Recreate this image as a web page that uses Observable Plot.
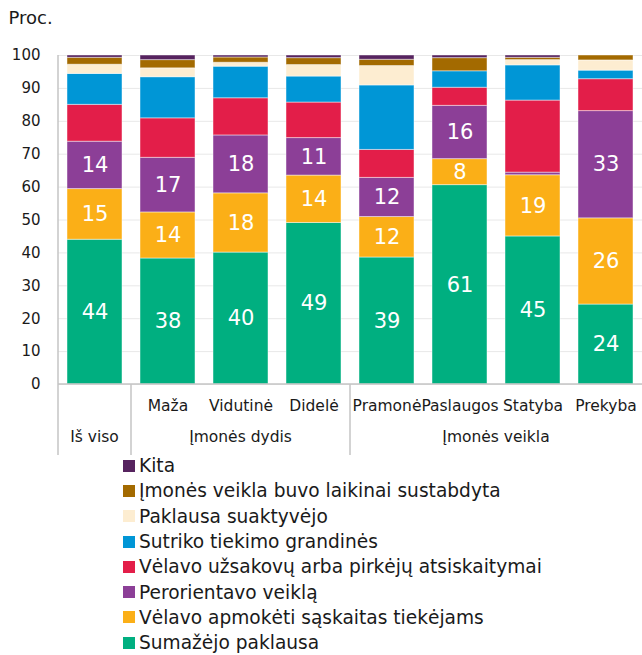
<!DOCTYPE html>
<html><head><meta charset="utf-8">
<script src="https://cdn.jsdelivr.net/npm/d3@7"></script>
<script src="https://cdn.jsdelivr.net/npm/@observablehq/plot@0.6"></script>
<style>
body{margin:0;background:#fff;font-family:"DejaVu Sans",Verdana,sans-serif;}
#legend{margin-left:123px;margin-top:-3px;}
.item{display:flex;align-items:center;height:25.3px;font-size:18.6px;color:#1a1a1a;white-space:nowrap}
.sw{width:12px;height:12px;margin-right:4px;flex:none}
</style></head><body>
<div id="chart"></div><div id="legend"></div>
<script>
// Categories (x) and their labels
const categories = ["Iš viso","Maža","Vidutinė","Didelė","Pramonė","Paslaugos","Statyba","Prekyba"];
const categoryLabels = ["","Maža","Vidutinė","Didelė","Pramonė","Paslaugos","Statyba","Prekyba"];
const groupNames = ["Iš viso","Įmonės dydis","Įmonės veikla"];
const groupOf = [0,1,1,1,2,2,2,2];

// Series (bottom to top), values per category (%)
const seriesNames = ["Sumažėjo paklausa","Vėlavo apmokėti sąskaitas tiekėjams","Perorientavo veiklą","Vėlavo užsakovų arba pirkėjų atsiskaitymai","Sutriko tiekimo grandinės","Paklausa suaktyvėjo","Įmonės veikla buvo laikinai sustabdyta","Kita"];
const sumazejoPaklausa   = [44.0, 38.3, 40.1, 49.1, 38.6, 60.6, 45.0, 24.3];
const velavoApmoketi     = [15.4, 14.0, 18.0, 14.4, 12.3,  7.9, 18.6, 26.2];
const perorientavo       = [14.4, 16.6, 17.6, 11.4, 11.9, 16.2,  0.8, 32.6];
const velavoUzsakovu     = [11.2, 12.0, 11.3, 10.8,  8.5,  5.5, 21.9,  9.7];
const sutrikoTiekimo     = [ 9.4, 12.5,  9.6,  7.9, 19.6,  5.0, 10.7,  2.6];
const paklausaSuaktyvejo = [ 2.8,  2.7,  1.2,  3.5,  5.9,  0.0,  1.6,  3.1];
const veiklaSustabdyta   = [ 2.1,  2.5,  1.6,  2.1,  1.9,  4.0,  0.7,  1.5];
const kita               = [ 0.7,  1.4,  0.6,  0.8,  1.3,  0.8,  0.7,  0.0];
const seriesValues = [sumazejoPaklausa, velavoApmoketi, perorientavo, velavoUzsakovu, sutrikoTiekimo, paklausaSuaktyvejo, veiklaSustabdyta, kita];
const colors = ["#00AF80","#FBAF17","#8C3F97","#E31E49","#0096D6","#FDEDD1","#A36A00","#56235F"];
const labelledSeries = seriesNames.slice(0,3);
const yTicks = [0,10,20,30,40,50,60,70,80,90,100];

const rows = [];
seriesNames.forEach((s, si) => seriesValues[si].forEach((v, ci) => rows.push({cat: categories[ci], series: s, value: v})));

const decorations = (index, scales, values, dim) => {
  const x = scales.x, y = scales.y;
  const step = x(categories[1]) - x(categories[0]);
  const bw = x.bandwidth ? x.bandwidth() : step * 0.75;
  const half = (step - bw) / 2;
  const yb = y(0), bottom = dim.height - 1;
  const left = dim.marginLeft, right = dim.width - dim.marginRight;
  const g = d3.create("svg:g");
  const line = (x1,y1,x2,y2) => g.append("line").attr("x1",x1).attr("y1",y1).attr("x2",x2).attr("y2",y2).attr("stroke","#c4c4c4").attr("stroke-width",1.5);
  line(left, yb, right, yb);
  line(left, y(100), left, bottom);
  groupNames.forEach((name, gi) => {
    const members = categories.filter((c, i) => groupOf[i] === gi);
    const x0 = x(members[0]) - half;
    const x1 = gi === groupNames.length - 1 ? right : x(members[members.length-1]) + bw + half;
    if (gi > 0) line(x0, yb, x0, bottom);
    g.append("text").attr("x", (x0 + x1) / 2).attr("y", 437).attr("text-anchor","middle").attr("dominant-baseline","middle")
      .attr("fill","#1a1a1a").attr("font-size","15.5px").text(name);
  });
  return g.node();
};

const chart = Plot.plot({
  width: 642, height: 456,
  marginTop: 55, marginLeft: 58, marginRight: 0, marginBottom: 72,
  style: {fontFamily: '"DejaVu Sans", Verdana, sans-serif', fontSize: "15px", color: "#1a1a1a", background: "white", overflow: "visible"},
  x: {domain: categories, paddingInner: 0.25, paddingOuter: 0.125, align: 0.5, axis: null, label: null},
  y: {domain: [0, 100], axis: null, label: null},
  color: {domain: seriesNames, range: colors},
  marks: [
    Plot.gridY(yTicks, {stroke: "#e8e8e8", strokeOpacity: 1, strokeWidth: 1}),
    Plot.barY(rows, {x: "cat", y: "value", fill: "series", order: seriesNames, stroke: "white", strokeOpacity: 0.45, strokeWidth: 1}),
    Plot.text(rows, Plot.stackY({x: "cat", y: "value", z: "series", order: seriesNames,
      text: d => labelledSeries.includes(d.series) && d.value >= 5 ? String(Math.round(d.value)) : null,
      fill: "white", fontSize: 21})),
    Plot.axisY(yTicks, {tickSize: 0, tickPadding: 18, fontSize: 15, fill: "#1a1a1a", label: null}),
    Plot.axisX({tickSize: 0, tickPadding: 15, fontSize: 15.5, fill: "#1a1a1a", label: null, tickFormat: d => categoryLabels[categories.indexOf(d)]}),
    Plot.text(["Proc."], {frameAnchor: "top-left", textAnchor: "start", lineAnchor: "middle", dx: -50, dy: -37, fontSize: 18, fill: "#1a1a1a"}),
    decorations
  ]
});
document.getElementById("chart").appendChild(chart);

const legend = document.getElementById("legend");
seriesNames.slice().reverse().forEach(name => {
  const item = document.createElement("div");
  item.className = "item";
  const sw = document.createElement("span");
  sw.className = "sw";
  sw.style.background = colors[seriesNames.indexOf(name)];
  const t = document.createElement("span");
  t.textContent = name;
  item.appendChild(sw); item.appendChild(t);
  legend.appendChild(item);
});
</script>
</body></html>
